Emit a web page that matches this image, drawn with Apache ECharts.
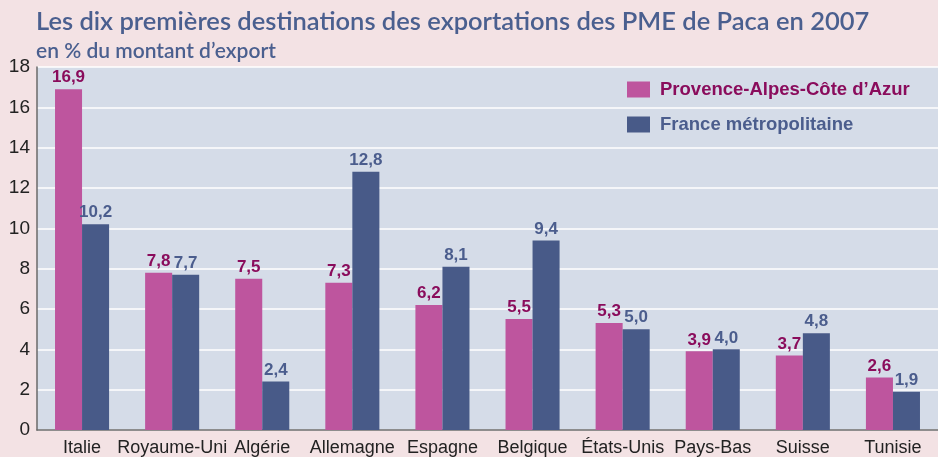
<!DOCTYPE html>
<html>
<head>
<meta charset="utf-8">
<script src="https://cdn.jsdelivr.net/npm/echarts@6/dist/echarts.min.js"></script>
<style>
  html, body { margin: 0; padding: 0; background: #f3e2e4; }
  #chart { width: 938px; height: 457px; }
</style>
</head>
<body>
<div id="chart"></div>
<script>
const categories = ['Italie', 'Royaume-Uni', 'Algérie', 'Allemagne', 'Espagne', 'Belgique', 'États-Unis', 'Pays-Bas', 'Suisse', 'Tunisie']
const pacaValues = [16.9, 7.8, 7.5, 7.3, 6.2, 5.5, 5.3, 3.9, 3.7, 2.6]
const franceValues = [10.2, 7.7, 2.4, 12.8, 8.1, 9.4, 5.0, 4.0, 4.8, 1.9]
const seriesNames = ['Provence-Alpes-Côte d\u2019Azur', 'France métropolitaine']

const PINK = '#be559e'
const BLUE = '#485a88'
const PINK_TXT = '#8a0c5c'
const BLUE_TXT = '#4b5d8d'

const chart = echarts.init(document.getElementById('chart'))

// label with comma decimal
const fmt = (p) => p.value.toFixed(1).replace('.', ',')

function barSeries(name, data, color, txt) {
  return {
    name,
    type: 'bar',
    data,
    barGap: '0%',
    barCategoryGap: '40%',
    itemStyle: { color },
    label: {
      show: true,
      position: 'top',
      distance: 3,
      formatter: fmt,
      color: txt,
      fontFamily: '"Liberation Sans Narrow", "Liberation Sans", Arial, sans-serif',
      fontWeight: 'bold',
      fontSize: 17,
    },
  }
}

chart.setOption({
  backgroundColor: '#f3e2e4',
  animation: false,
  title: [
    {
      text: 'Les dix premières destinations des exportations des PME de Paca en 2007',
      left: 31,
      top: 4,
      textStyle: { color: '#4a5f8f', fontFamily: 'Lato, "Open Sans", sans-serif', fontWeight: 600, fontSize: 25.5 },
    },
    {
      text: 'en % du montant d\u2019export',
      left: 31,
      top: 36,
      textStyle: { color: '#4a5f8f', fontFamily: 'Lato, "Open Sans", sans-serif', fontWeight: 600, fontSize: 21 },
    },
  ],
  legend: {
    orient: 'vertical',
    left: 622,
    top: 75,
    itemWidth: 23,
    itemHeight: 16,
    itemGap: 16,
    icon: 'rect',
    data: [
      { name: seriesNames[0], textStyle: { color: PINK_TXT } },
      { name: seriesNames[1], textStyle: { color: BLUE_TXT } },
    ],
    textStyle: { fontFamily: '"Liberation Sans", Arial, sans-serif', fontWeight: 'bold', fontSize: 18.5, lineHeight: 16, padding: [0, 0, 0, 5] },
  },
  grid: {
    left: 37,
    right: 0,
    top: 67,
    bottom: 27,
    show: true,
    backgroundColor: '#d5dce8',
    borderWidth: 0,
  },
  xAxis: {
    type: 'category',
    data: categories,
    axisLine: { lineStyle: { color: '#6a6a6a', width: 1.5 } },
    axisTick: { show: false },
    axisLabel: {
      color: '#222',
      fontFamily: '"Liberation Sans", Arial, sans-serif',
      fontSize: 18,
      margin: 9,
      interval: 0,
    },
  },
  yAxis: {
    type: 'value',
    min: 0,
    max: 18,
    interval: 2,
    axisLine: { show: true, lineStyle: { color: '#6a6a6a', width: 1.5 } },
    axisTick: { show: false },
    axisLabel: {
      color: '#222',
      fontFamily: '"Liberation Sans", Arial, sans-serif',
      fontSize: 19,
      margin: 7,
    },
    splitLine: { lineStyle: { color: '#ffffff', width: 1.5 } },
  },
  series: [
    barSeries(seriesNames[0], pacaValues, PINK, PINK_TXT),
    barSeries(seriesNames[1], franceValues, BLUE, BLUE_TXT),
  ],
})
</script>
</body>
</html>
